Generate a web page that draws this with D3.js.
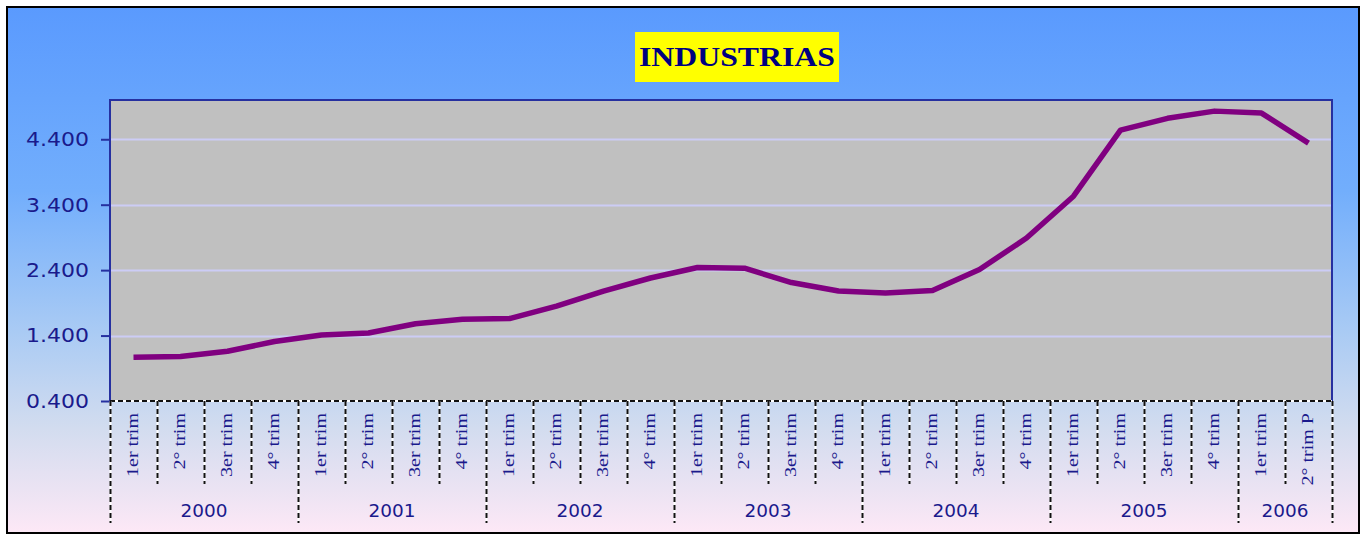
<!DOCTYPE html>
<html><head><meta charset="utf-8">
<script src="https://cdn.jsdelivr.net/npm/d3@7"></script>
<style>html,body{margin:0;padding:0;background:#fff;}svg{display:block;}</style>
</head><body>
<script>
const years = ["2000","2001","2002","2003","2004","2005","2006"];
const quartersPerYear = [4,4,4,4,4,4,2];
const quarterLabels = ["1er trim","2° trim","3er trim","4° trim","1er trim","2° trim","3er trim","4° trim","1er trim","2° trim","3er trim","4° trim","1er trim","2° trim","3er trim","4° trim","1er trim","2° trim","3er trim","4° trim","1er trim","2° trim","3er trim","4° trim","1er trim","2° trim P"];
const values = [1.07,1.08,1.16,1.31,1.41,1.44,1.58,1.65,1.66,1.85,2.08,2.28,2.44,2.43,2.21,2.08,2.05,2.09,2.41,2.89,3.53,4.54,4.72,4.83,4.80,4.34];
const yTicks = [0.4,1.4,2.4,3.4,4.4];
const yTickLabels = ["0.400","1.400","2.400","3.400","4.400"];
const title = "INDUSTRIAS";

const W=1366,H=534;
const svg=d3.select("body").append("svg").attr("width",W).attr("height",H);
const defs=svg.append("defs");
const g=defs.append("linearGradient").attr("id","bg").attr("x1",0).attr("y1",0).attr("x2",0).attr("y2",1);
[[0,"#5a9afe"],[0.35,"#72aefc"],[0.62,"#aacbf4"],[0.8,"#d2dcef"],[1,"#fde8f6"]].forEach(s=>g.append("stop").attr("offset",s[0]).attr("stop-color",s[1]));

svg.append("rect").attr("x",7).attr("y",7).attr("width",1352).attr("height",526).attr("fill","url(#bg)").attr("stroke","#000").attr("stroke-width",2);

const L=110,R=1332,T=100,B=401;
const idx=d3.range(values.length);
const x=d3.scaleBand().domain(idx).range([L,R]).paddingInner(0).paddingOuter(0);
const y=d3.scaleLinear().domain([0.4,5.0]).range([B,T]);

svg.append("rect").attr("x",L).attr("y",T).attr("width",R-L).attr("height",B-T).attr("fill","#c0c0c0");
// grid
svg.append("g").selectAll("line").data(yTicks.slice(1)).join("line")
 .attr("x1",L).attr("x2",R).attr("y1",d=>Math.round(y(d))+0.5).attr("y2",d=>Math.round(y(d))+0.5)
 .attr("stroke","#ccccf5").attr("stroke-width",2);
// plot border left/top/right
svg.append("path").attr("d",`M${L},${B}V${T}H${R}V${B}`).attr("fill","none").attr("stroke","#2630a0").attr("stroke-width",2);

// y axis
const yAxis=d3.axisLeft(y).tickValues(yTicks).tickFormat((d,i)=>yTickLabels[i]).tickSize(9).tickPadding(12);
const ya=svg.append("g").attr("transform",`translate(${L},0)`).call(yAxis);
ya.select(".domain").remove();
ya.selectAll(".tick line").attr("stroke","#2630a0").attr("stroke-width",2);
ya.selectAll(".tick text").attr("fill","#1a1a8c").style("font-family","DejaVu Sans").style("font-size","20px")
  .attr("textLength",63).attr("lengthAdjust","spacingAndGlyphs");

// x axis dashed lines
function dashLine(x1,y1,x2,y2){
  const gg=svg.append("g");
  gg.append("line").attr("x1",x1).attr("y1",y1).attr("x2",x2).attr("y2",y2).attr("stroke","#fff").attr("stroke-width",2);
  gg.append("line").attr("x1",x1).attr("y1",y1).attr("x2",x2).attr("y2",y2).attr("stroke","#111").attr("stroke-width",2).attr("stroke-dasharray","5,3");
}
dashLine(L,B,R,B);
// year boundaries
const yearStarts=[];let acc=0;quartersPerYear.forEach(q=>{yearStarts.push(acc);acc+=q;});
const yearBounds=new Set(yearStarts.concat([values.length]));
d3.range(values.length+1).forEach(i=>{
  const xx=i<values.length?x(i):x(values.length-1)+x.bandwidth();
  const isYear=yearBounds.has(i);
  dashLine(Math.round(xx)+0.5,B,Math.round(xx)+0.5,isYear?523:484);
});
// quarter labels
svg.append("g").selectAll("text").data(quarterLabels).join("text")
 .attr("transform",(d,i)=>`translate(${x(i)+x.bandwidth()/2+4},413) rotate(-90) scale(1.18,1)`)
 .attr("text-anchor","end").attr("fill","#1a1a8c")
 .style("font-family","Liberation Serif").style("font-size","17px")
 .text(d=>d);
// year labels
svg.append("g").selectAll("text").data(years).join("text")
 .attr("x",(d,i)=>{const s=x(yearStarts[i]);const e=x(yearStarts[i]+quartersPerYear[i]-1)+x.bandwidth();return (s+e)/2;})
 .attr("y",517).attr("text-anchor","middle").attr("fill","#1a1a8c")
 .style("font-family","DejaVu Sans").style("font-size","17px")
 .attr("textLength",47).attr("lengthAdjust","spacingAndGlyphs")
 .text(d=>d);

// line
const line=d3.line().x((d,i)=>x(i)+x.bandwidth()/2).y(d=>y(d));
svg.append("path").datum(values).attr("d",line).attr("fill","none").attr("stroke","#800080").attr("stroke-width",5.5).attr("stroke-linejoin","round");

// title
svg.append("rect").attr("x",635).attr("y",32).attr("width",204).attr("height",50).attr("fill","#ffff00");
svg.append("text").attr("x",737).attr("y",66).attr("text-anchor","middle").attr("fill","#000080")
 .style("font-family","Liberation Serif").style("font-weight","bold").style("font-size","27px")
 .attr("textLength",196).attr("lengthAdjust","spacingAndGlyphs").text(title);
</script>
</body></html>
